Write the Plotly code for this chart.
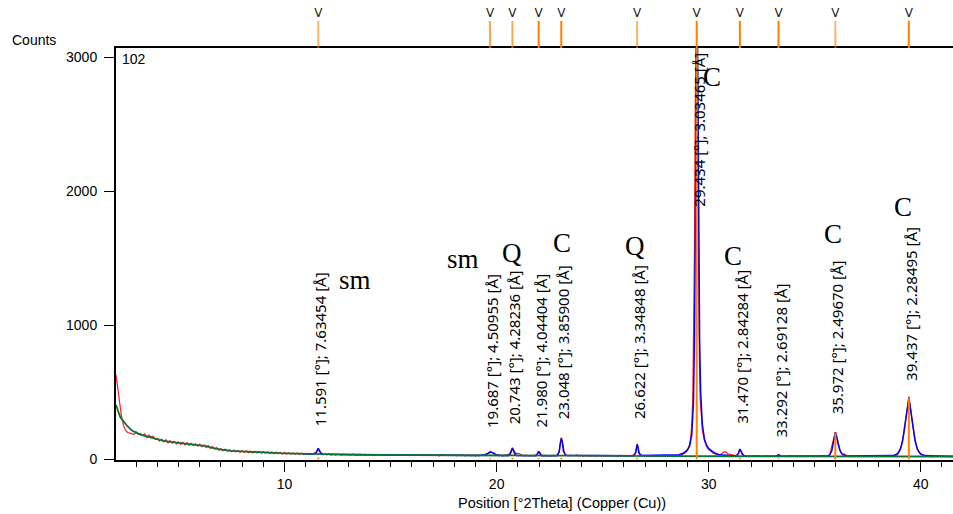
import plotly.graph_objects as go

# ---- indexed reflections ----------------------------------------------------
peak_2theta = [11.591, 19.687, 20.743, 21.980, 23.048, 26.622, 29.434, 31.470, 33.292, 35.972, 39.437]
peak_d = ["7.63454", "4.50955", "4.28236", "4.04404", "3.85900", "3.34848",
          "3.03465", "2.84284", "2.69128", "2.49670", "2.28495"]
stick_counts = [14, 8, 10, 8, 12, 10, 3500, 10, 8, 195, 455]

# ---- measured scan (Counts) on a 0.1 deg grid starting at 2.1 deg -----------
obs_start = 2.1
obs_step = 0.1
obs_counts = (
    [560, 450, 330, 255, 215, 200, 196, 192, 187]                      # 2.1
    + [204, 186, 193, 179, 190, 163, 181, 168, 172, 150]               # 3
    + [158, 136, 151, 130, 146, 122, 140, 121, 134, 116]               # 4
    + [130, 112, 126, 108, 124, 104, 119, 103, 116, 98]                # 5
    + [114, 94, 108, 88, 102, 82, 95, 76, 88, 68]                      # 6
    + [80, 64, 76, 61, 72, 57, 70, 56, 66, 53]                         # 7
    + [64, 51, 63, 50, 62, 48, 60, 47, 58, 46]                         # 8
    + [58, 45, 56, 44, 55, 42, 54, 42, 52, 40]                         # 9
    + [51, 39, 50, 38, 48, 37, 47, 36, 45, 35]                         # 10
    + [38, 44, 35, 42, 44, 52, 74, 47, 34, 41]                         # 11
    + [33, 40, 32, 39, 31, 38, 36, 31, 39, 33]                         # 12
    + [37, 31, 38, 33, 30, 37, 32, 36, 30, 35]                         # 13
    + [36, 30, 35, 31, 37, 29, 34, 36, 30, 34]                         # 14
    + [29, 35, 30, 36, 29, 34, 28, 35, 31, 29]                         # 15
    + [34, 28, 33, 29, 35, 27, 32, 34, 28, 33]                         # 16
    + [27, 33, 30, 26, 34, 28, 32, 27, 33, 28]                         # 17
    + [32, 26, 31, 27, 33, 26, 30, 32, 26, 31]                         # 18
    + [26, 31, 27, 32, 29, 33, 45, 60, 47, 36]                         # 19
    + [31, 27, 31, 26, 30, 32, 40, 72, 70, 45]                         # 20
    + [44, 38, 29, 26, 31, 25, 30, 27, 31, 34]                         # 21
    + [58, 38, 27, 31, 25, 30, 26, 31, 27, 40]                         # 22
    + [130, 135, 48, 30, 26, 30, 25, 29, 31, 26]                       # 23
    + [29, 24, 30, 25, 23, 29, 27, 24, 30, 25]                         # 24
    + [28, 23, 29, 26, 30, 24, 28, 23, 29, 25]                         # 25
    + [24, 29, 26, 23, 30, 36, 100, 68, 33, 27]                        # 26
    + [24, 29, 23, 28, 24, 30, 25, 23, 29, 24]                         # 27
    + [28, 23, 29, 24, 28, 30, 31, 29, 40, 48]                         # 28
    + [70, 110, 250, 1000, 3300, 1700, 450, 220, 140, 95]              # 29
    + [72, 58, 48, 40, 38, 34, 40, 55, 58, 40]                         # 30
    + [38, 34, 30, 28, 45, 68, 35, 26, 28, 25]                         # 31
    + [23, 28, 22, 27, 25, 21, 28, 23, 27, 22]                         # 32
    + [26, 21, 28, 35, 26, 22, 26, 21, 27, 23]                         # 33
    + [22, 27, 21, 26, 24, 20, 27, 22, 26, 21]                         # 34
    + [25, 20, 26, 22, 27, 21, 26, 32, 95, 170]                        # 35
    + [196, 125, 65, 38, 40, 28, 24, 25, 21, 26]                       # 36
    + [22, 20, 25, 21, 26, 20, 24, 21, 25, 20]                         # 37
    + [24, 21, 25, 20, 24, 26, 21, 25, 28, 33]                         # 38
    + [60, 110, 190, 300, 430, 400, 270, 165, 95, 55]                  # 39
    + [36, 28, 24, 22, 21, 25, 20, 24, 21, 25]                         # 40
    + [21, 24, 20, 25, 21, 24]                                         # 41
)

# extra measured points across the sharper reflections
obs_fine_2theta = [2.05, 11.58, 20.74, 22.95, 23.02, 23.05, 23.08, 23.15,
                   26.56, 26.63, 26.67, 26.74,
                   29.15, 29.25, 29.33, 29.36, 29.38, 29.42, 29.44, 29.47, 29.53, 29.56, 29.65,
                   31.46, 35.96, 36.05, 39.44, 39.47]
obs_fine_counts = [630, 78, 85, 60, 150, 162, 150, 80,
                   60, 115, 95, 45,
                   165, 470, 1600, 2500, 3100, 3600, 3400, 2500, 1100, 750, 310,
                   72, 198, 160, 470, 440]

# ---- calculated profile -----------------------------------------------------
calc_2theta = [11.0, 11.4, 11.48, 11.54, 11.59, 11.64, 11.7, 11.8,
               19.2, 19.45, 19.6, 19.72, 19.82, 19.95, 20.15,
               20.55, 20.65, 20.7, 20.745, 20.79, 20.85, 20.95,
               21.85, 21.93, 21.98, 22.03, 22.12,
               22.85, 22.95, 23.0, 23.05, 23.1, 23.15, 23.25,
               26.45, 26.55, 26.59, 26.625, 26.66, 26.7, 26.8,
               28.6, 28.8, 29.0, 29.1, 29.2, 29.28, 29.33, 29.37, 29.41, 29.45, 29.49,
               29.53, 29.57, 29.62, 29.7, 29.8, 29.9, 30.0, 30.15, 30.3, 30.5,
               31.3, 31.4, 31.47, 31.52, 31.6, 31.7,
               33.2, 33.29, 33.38,
               35.6, 35.7, 35.8, 35.87, 35.92, 35.97, 36.02, 36.07, 36.14, 36.22, 36.32, 36.45,
               38.7, 38.9, 39.04, 39.14, 39.24, 39.34, 39.44, 39.54, 39.64, 39.74, 39.84,
               39.98, 40.2, 41.52]
calc_counts = [40, 40, 48, 65, 82, 65, 46, 38,
               28, 34, 47, 55, 50, 37, 28,
               28, 42, 68, 84, 68, 42, 28,
               27, 44, 60, 44, 27,
               27, 55, 120, 157, 120, 60, 30,
               26, 45, 90, 112, 90, 50, 28,
               35, 45, 70, 100, 180, 420, 900, 1700, 2800, 3500, 2800,
               1700, 900, 500, 260, 150, 105, 80, 60, 45, 35,
               24, 42, 77, 62, 35, 24,
               23, 34, 23,
               24, 32, 60, 110, 165, 200, 175, 135, 90, 55, 35, 25,
               28, 42, 75, 135, 230, 350, 455, 350, 230, 135, 75,
               42, 28, 22]

# ---- background -------------------------------------------------------------
bg_2theta = [2.05, 2.15, 2.25, 2.4, 2.6, 2.8, 3.0, 3.2, 3.4, 3.7, 4.0, 4.3, 4.6, 5.0,
             5.5, 6.0, 6.3, 6.6, 7.0, 7.5, 8.0, 8.5, 9.0, 9.5, 10.0, 11.0, 12.0, 13.0,
             14.0, 16.0, 18.0, 20.0, 22.0, 25.0, 28.0, 31.0, 34.0, 37.0, 40.0, 41.52]
bg_counts = [405, 350, 315, 285, 245, 215, 198, 185, 175, 162, 148, 137, 130, 122,
             113, 104, 98, 86, 72, 63, 58, 55, 51, 48, 45, 40, 37, 35,
             33, 31, 29, 27, 26, 25, 24, 23, 22, 21, 21, 21]

# ---- annotations ------------------------------------------------------------
label_top = [1413, 1398, 1428, 1398, 1465, 1465, 3047, 1428, 1323, 1502, 1748]
phase_text = ["sm", "sm", "Q", "C", "Q", "C", "C", "C", "C"]
phase_x = [13.33, 18.40, 20.74, 23.09, 26.53, 30.17, 31.16, 35.87, 39.17]
phase_y = [1338, 1491, 1540, 1614, 1592, 2854, 1517, 1681, 1883]
strip_alpha = [0.6, 0.7, 0.7, 1, 1, 0.6, 1, 1, 1, 0.6, 1]

# merge the grid and the fine points into one sorted scan
obs_2theta = [round(obs_start + obs_step * i, 2) for i in range(len(obs_counts))]
scan = sorted(zip(obs_2theta + obs_fine_2theta, obs_counts + obs_fine_counts))
scan_x = [p[0] for p in scan]
scan_y = [p[1] for p in scan]

fig = go.Figure()
fig.add_trace(go.Scatter(x=scan_x, y=scan_y, mode="lines",
                         line=dict(color="#ff1a1a", width=1.2), hoverinfo="skip"))
fig.add_trace(go.Scatter(x=calc_2theta, y=calc_counts, mode="lines",
                         line=dict(color="#0000ff", width=1.5), hoverinfo="skip"))
fig.add_trace(go.Scatter(x=bg_2theta, y=bg_counts, mode="lines",
                         line=dict(color="#10703a", width=1.8), hoverinfo="skip"))

# reflection sticks in the main panel
sx, sy = [], []
for p, h in zip(peak_2theta, stick_counts):
    sx += [p, p, None]
    sy += [0, h, None]
fig.add_trace(go.Scatter(x=sx, y=sy, mode="lines",
                         line=dict(color="#ff8000", width=2), hoverinfo="skip"))

# peak-list strip above the plot
for p, a in zip(peak_2theta, strip_alpha):
    fig.add_trace(go.Scatter(x=[p, p], y=[0, 0.63], mode="lines", xaxis="x", yaxis="y2",
                             line=dict(color=f"rgba(255,128,0,{a})", width=2),
                             hoverinfo="skip"))
fig.add_trace(go.Scatter(x=peak_2theta, y=[0.79] * len(peak_2theta), mode="text",
                         text=["V"] * len(peak_2theta), xaxis="x", yaxis="y2",
                         textfont=dict(family="DejaVu Sans", size=12, color="#1a1a1a"),
                         hoverinfo="skip"))

annotations = []
for p, d, yt in zip(peak_2theta, peak_d, label_top):
    annotations.append(dict(
        text=f"{p:.3f} [°]; {d} [Å]", x=p, y=yt, xref="x", yref="y",
        textangle=-90, xanchor="center", yanchor="top", xshift=2, showarrow=False,
        font=dict(family="Noto Sans", size=15, color="black")))
for t, px, py in zip(phase_text, phase_x, phase_y):
    annotations.append(dict(
        text=t, x=px, y=py, xref="x", yref="y", xanchor="center", yanchor="middle",
        showarrow=False, font=dict(family="Liberation Serif", size=27, color="black")))
annotations += [
    dict(text="Counts", x=-106 / 837, y=(460 - 40) / 455, xref="paper", yref="paper",
         showarrow=False, xanchor="left", yanchor="middle",
         font=dict(family="Liberation Sans", size=14, color="black")),
    dict(text="102", x=2.25, y=2990, xref="x", yref="y", showarrow=False,
         xanchor="left", yanchor="middle",
         font=dict(family="Liberation Sans", size=14, color="black")),
    dict(text="Position [°2Theta] (Copper (Cu))", x=23.09, y=-0.095, xref="x", yref="paper",
         showarrow=False, xanchor="center", yanchor="middle",
         font=dict(family="Liberation Sans", size=14.5, color="black")),
]

fig.update_layout(
    width=953, height=514,
    margin=dict(l=116, r=0, t=5, b=54, pad=0),
    paper_bgcolor="white", plot_bgcolor="white",
    showlegend=False,
    xaxis=dict(range=[2.05, 41.52], anchor="y", showline=True, linecolor="black", linewidth=2,
               mirror=True, ticks="outside", ticklen=10, tickwidth=1, tickcolor="black",
               tick0=0, dtick=10, showgrid=False, zeroline=False,
               tickfont=dict(family="Liberation Sans", size=14, color="black"),
               minor=dict(ticks="outside", ticklen=5, tickwidth=1, tickcolor="black",
                          tick0=0, dtick=1, showgrid=False)),
    yaxis=dict(range=[-5, 3069], domain=[0, 0.9055], anchor="x", showline=True,
               linecolor="black", linewidth=2, ticks="outside", ticklen=10, tickwidth=1,
               tickcolor="black", tickvals=[0, 1000, 2000, 3000], showgrid=False,
               zeroline=False, ticklabelstandoff=4,
               tickfont=dict(family="Liberation Sans", size=14, color="black")),
    yaxis2=dict(range=[0, 1], domain=[0.9055, 1], anchor="x", visible=False),
    annotations=annotations,
)

fig.write_html("out.html")
